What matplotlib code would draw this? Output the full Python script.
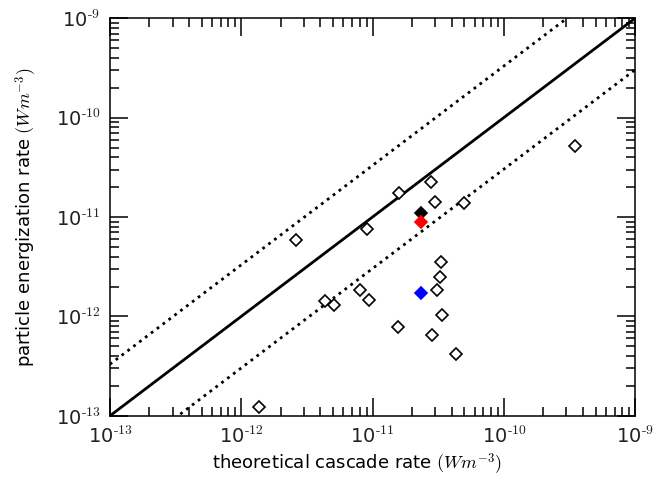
import matplotlib.pyplot as plt
import numpy as np
from matplotlib.ticker import FuncFormatter, LogLocator

plt.rcParams['mathtext.fontset'] = 'cm'
plt.rcParams['font.family'] = 'DejaVu Sans'

# open diamonds
cascade = [1.37e-12, 2.61e-12, 4.35e-12, 5.11e-12, 8.07e-12, 9.33e-12, 9.1e-12,
           1.56e-11, 1.58e-11, 2.79e-11, 3.01e-11, 4.94e-11, 3.30e-11, 3.27e-11,
           3.10e-11, 3.37e-11, 2.83e-11, 4.32e-11, 3.50e-10]
energization = [1.24e-13, 5.81e-12, 1.44e-12, 1.29e-12, 1.83e-12, 1.48e-12, 7.55e-12,
                7.87e-13, 1.73e-11, 2.23e-11, 1.42e-11, 1.38e-11, 3.55e-12, 2.49e-12,
                1.83e-12, 1.04e-12, 6.49e-13, 4.19e-13, 5.17e-11]

# filled diamonds
special_x = [2.32e-11, 2.32e-11, 2.32e-11]
special_y = [1.09e-11, 8.95e-12, 1.72e-12]
special_c = ['black', 'red', 'blue']

decades = [1e-13, 1e-12, 1e-11, 1e-10, 1e-9]
factor = 3.3
line_x = np.array([1e-13, 1e-9])

fig = plt.figure(figsize=(6.7, 4.78), dpi=100)
ax = fig.add_axes([0.164, 0.130, 0.784, 0.832])

ax.plot(line_x, line_x, color='black', lw=2)
ax.plot(line_x, line_x * factor, color='black', lw=2, ls=':')
ax.plot(line_x, line_x / factor, color='black', lw=2, ls=':')

ax.plot(cascade, energization, ls='none', marker='D', ms=6, mfc='white',
        mec='black', mew=1.2)
for x, y, c in zip(special_x, special_y, special_c):
    ax.plot([x], [y], ls='none', marker='D', ms=6, mfc=c, mec=c, mew=1.2)

ax.set_xscale('log')
ax.set_yscale('log')
ax.set_xlim(1e-13, 1e-9)
ax.set_ylim(1e-13, 1e-9)

fmt = FuncFormatter(lambda v, p: r'$\mathregular{10^{\text{%d}}}$' % int(round(np.log10(v))))
ax.set_xticks(decades)
ax.set_yticks(decades)
for axis in (ax.xaxis, ax.yaxis):
    axis.set_minor_locator(LogLocator(base=10, subs=np.arange(2, 10), numticks=20))
    axis.set_major_formatter(fmt)
    axis.set_minor_formatter(FuncFormatter(lambda v, p: ''))

ax.tick_params(which='both', direction='in', top=True, right=True, width=1.1)
ax.tick_params(which='major', length=13, labelsize=14, pad=7, labelcolor='#222222')
ax.tick_params(which='minor', length=6.5)
for s in ax.spines.values():
    s.set_linewidth(1.1)

ax.set_xlabel(r'theoretical cascade rate $(Wm^{-3})$', fontsize=13)
ax.set_ylabel(r'particle energization rate $(Wm^{-3})$', fontsize=13)
ax.xaxis.set_label_coords(0.47, -0.09)
ax.yaxis.set_label_coords(-0.135, 0.5)

fig.savefig('out.png', dpi=100)
